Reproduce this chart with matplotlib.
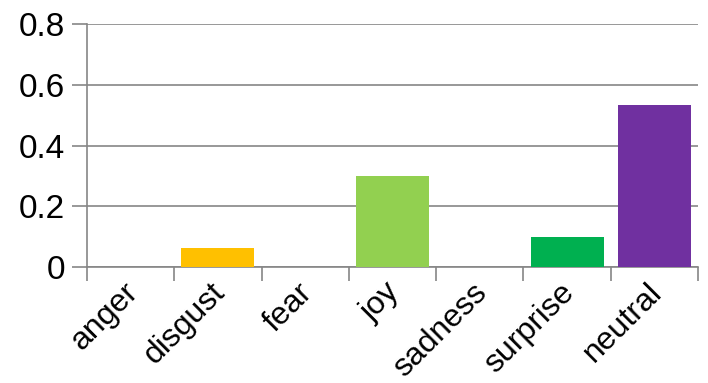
import numpy as np
import matplotlib.pyplot as plt
import matplotlib.transforms as mtransforms

plt.rcParams['font.family'] = ['Liberation Sans', 'DejaVu Sans']

emotions = ['anger', 'disgust', 'fear', 'joy', 'sadness', 'surprise', 'neutral']
scores = [0.0, 0.0625, 0.0, 0.30, 0.0, 0.099, 0.533]
colors = ['#C00000', '#FFC000', '#FFFF00', '#92D050', '#00B0F0', '#00B050', '#7030A0']
yticks = [0, 0.2, 0.4, 0.6, 0.8]
ytick_labels = ['0', '0.2', '0.4', '0.6', '0.8']

gray = '#868686'

fig = plt.figure(figsize=(7.08, 3.83), dpi=100)
ax = fig.add_axes([87/708, 1 - 267/383, (698 - 87)/708, (267 - 24)/383])

x = np.arange(len(emotions))
ax.bar(x, scores, width=0.836, color=colors, zorder=3)

ax.set_xlim(-0.5, len(emotions) - 0.5)
ax.set_ylim(0, 0.8)
ax.set_yticks(yticks)
ax.set_yticklabels(ytick_labels, fontsize=24)
ax.yaxis.grid(True, color=gray, linewidth=1.2, zorder=0)
ax.tick_params(axis='y', length=11, width=1.2, color=gray, pad=5)

# ticks sit at category boundaries, labels at centres
ax.set_xticks(np.arange(len(emotions) + 1) - 0.5)
ax.set_xticklabels([])
ax.set_xticks(x, minor=True)
ax.set_xticklabels(emotions, minor=True, fontsize=23, rotation=45,
                   ha='right', va='center', rotation_mode='anchor')
ax.tick_params(axis='x', which='major', length=10, width=1.2, color=gray)
ax.tick_params(axis='x', which='minor', length=0, pad=15)
shift = mtransforms.ScaledTranslation(3/100, 0, fig.dpi_scale_trans)
for lbl in ax.get_xticklabels(minor=True):
    lbl.set_transform(lbl.get_transform() + shift)

for side in ['top', 'right']:
    ax.spines[side].set_visible(False)
for side in ['left', 'bottom']:
    ax.spines[side].set_color(gray)
    ax.spines[side].set_linewidth(1.2)

fig.savefig('out.png', dpi=100)
plt.close()
